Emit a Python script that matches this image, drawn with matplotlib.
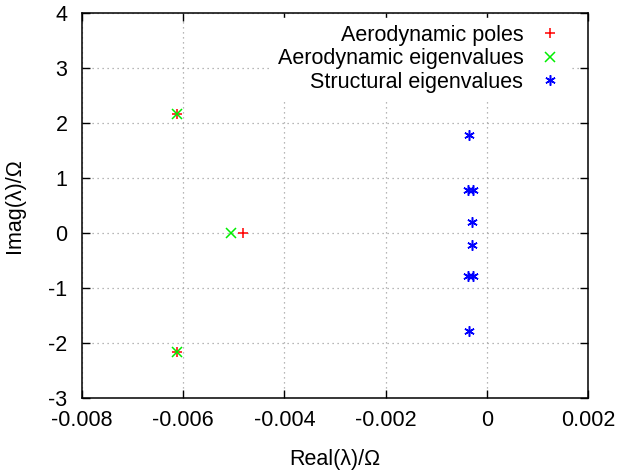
import matplotlib
matplotlib.use("Agg")
import matplotlib.pyplot as plt

# ---------- Data ----------
aero_poles_re = [-0.00612, -0.00612, -0.00482]
aero_poles_im = [2.16, -2.16, 0.0]

aero_eig_re = [-0.00612, -0.00612, -0.00505]
aero_eig_im = [2.16, -2.16, 0.0]

struct_re = [-0.00035, -0.00037, -0.00027, -0.00029, -0.00029,
             -0.00037, -0.00027, -0.00035]
struct_im = [1.78, 0.78, 0.78, 0.20, -0.22, -0.78, -0.78, -1.78]

x_ticks = [-0.008, -0.006, -0.004, -0.002, 0, 0.002]
x_ticklabels = ["-0.008", "-0.006", "-0.004", "-0.002", "0", "0.002"]
y_ticks = [-3, -2, -1, 0, 1, 2, 3, 4]

plt.rcParams["font.family"] = ["Liberation Sans", "DejaVu Sans"]
FS = 15.5

W, H = 624, 476
L, R, T, B = 82, 588, 13, 398
fig = plt.figure(figsize=(W / 100, H / 100), dpi=100)
ax = fig.add_axes([L / W, 1 - B / H, (R - L) / W, (B - T) / H])

ax.plot(aero_poles_re, aero_poles_im, linestyle="none", marker="+",
        color="#ff0000", markersize=7.5, markeredgewidth=1.1,
        label="Aerodynamic poles")
ax.plot(aero_eig_re, aero_eig_im, linestyle="none", marker="x",
        color="#00ee00", markersize=6.5, markeredgewidth=1.1,
        label="Aerodynamic eigenvalues")
ax.plot(struct_re, struct_im, linestyle="none", marker=(6, 2, 0),
        color="#0000ff", markersize=7.5, markeredgewidth=1.1,
        label="Structural eigenvalues")

ax.set_xlim(-0.008, 0.002)
ax.set_ylim(-3, 4)
ax.set_xticks(x_ticks)
ax.set_xticklabels(x_ticklabels)
ax.set_yticks(y_ticks)
ax.set_yticklabels([str(v) for v in y_ticks])

ax.tick_params(direction="in", top=True, right=True, length=6,
               width=1, labelsize=FS)
ax.tick_params(axis="x", pad=9)
ax.tick_params(axis="y", pad=10.5)
ax.grid(True, linestyle=(0, (1, 3)), color="#a0a0a0", linewidth=0.9)
ax.set_axisbelow(True)
for s in ax.spines.values():
    s.set_linewidth(1.1)

ax.set_xlabel("Real(λ)/Ω", fontsize=FS)
ax.set_ylabel("Imag(λ)/Ω", fontsize=FS)
ax.xaxis.set_label_coords(0.5, (B - 449) / (B - T))
ax.yaxis.set_label_coords((25 - L) / (R - L), 0.5)

leg = ax.legend(loc="upper right", bbox_to_anchor=(1 - 13 / (R - L), 1),
                markerfirst=False, fontsize=FS,
                frameon=True, fancybox=False, edgecolor="white",
                framealpha=1, borderpad=0.3, labelspacing=0.12,
                handletextpad=0.65, handlelength=1.2, borderaxespad=0.25)
for t in leg.get_texts():
    t.set_ha("right")
leg._legend_box.align = "right"

fig.savefig("out.png", dpi=100)
